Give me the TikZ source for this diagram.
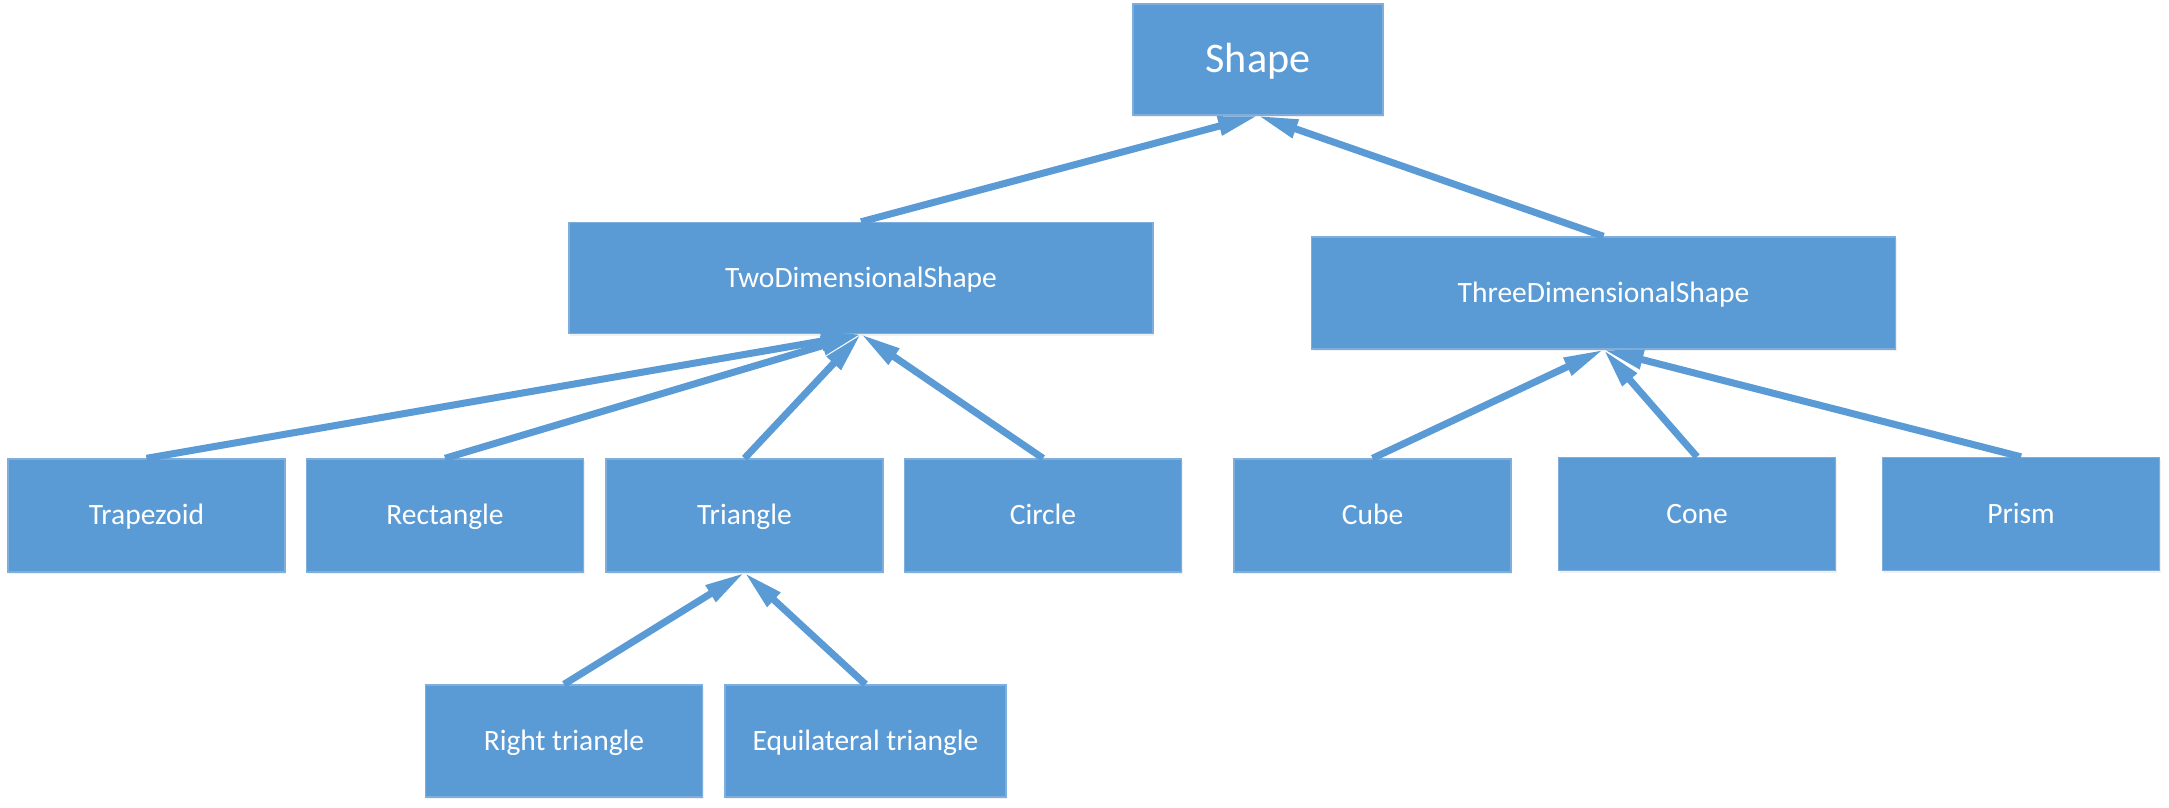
\documentclass[tikz,border=0pt]{standalone}
\usepackage{fontspec}
\setmainfont{Carlito}
\usepackage{tikz}
\usetikzlibrary{arrows.meta}
\usetikzlibrary{shadows}
\definecolor{boxblue}{HTML}{5B9BD5}
\definecolor{boxedge}{HTML}{7FAEDC}
\tikzset{
box/.style={ % Sets the properties for each class box
rectangle,
fill=boxblue,
draw=boxedge,
thin,
text=white,
font=\fontsize{8.4}{10}\selectfont,
text height=7.3pt, text depth=2pt,
minimum width=2.77cm,
minimum height=1.13cm,
drop shadow={opacity=0.12, shadow xshift=0.4pt, shadow yshift=-0.6pt}},
every edge/.style={ % Sets the properties for each inheritance arrow
draw=boxblue,
-{Triangle[length=4mm,width=1.8mm]}, % Points from child to parent
line width=2pt}}

\begin{document}
\begin{tikzpicture}
\useasboundingbox (0,0) rectangle (21.69,-8.07);
\tikzset{wide/.style={box,minimum width=5.84cm,minimum height=1.11cm}}
\node[box, minimum width=2.5cm, minimum height=1.11cm, font=\fontsize{12}{14}\selectfont, text height=10pt, text depth=2.4pt] (shape) at (12.58,-0.595) {Shape};
\node[wide ] (twod) at (8.61,-2.78) {TwoDimensionalShape};
\node[wide , minimum height=1.12cm ] (threed) at (16.035,-2.93) {ThreeDimensionalShape};
\node[box ] (trapezoid) at (1.465,-5.155) {Trapezoid};
\node[box ] (rectangle) at (4.45,-5.155) {Rectangle};
\node[box ] (triangle) at (7.445,-5.155) {Triangle};
\node[box ] (circle) at (10.43,-5.155) {Circle};
\node[box ] (cube) at (13.725,-5.155) {Cube};
\node[box ] (cone) at (16.97,-5.14) {Cone};
\node[box ] (prism) at (20.21,-5.14) {Prism};
\node[box , minimum height=1.12cm ] (righttri) at (5.64,-7.41) {Right triangle};
\node[box , minimum width=2.81cm, minimum height=1.12cm ] (equitri) at (8.655,-7.41) {Equilateral triangle};
\draw (twod.north) edge[] (shape.south) ;
\draw (threed.north) edge[] (shape.south) ;
\draw (trapezoid.north) edge[] (twod.south) ;
\draw (rectangle.north) edge[] (twod.south) ;
\draw (triangle.north) edge[] (twod.south) ;
\draw (circle.north) edge[] (twod.south) ;
\draw (cube.north) edge[] (threed.south) ;
\draw (cone.north) edge[] (threed.south) ;
\draw (prism.north) edge[] (threed.south) ;
\draw (righttri.north) edge[] (triangle.south) ;
\draw (equitri.north) edge[] (triangle.south) ;
\end{tikzpicture}
\end{document}
